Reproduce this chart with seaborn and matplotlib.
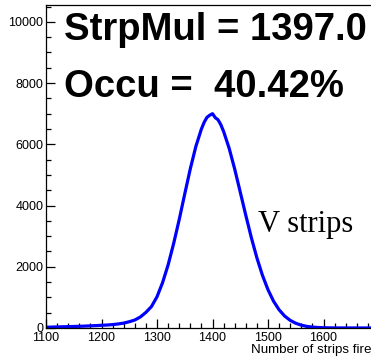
import matplotlib
matplotlib.use("Agg")
import matplotlib.pyplot as plt
import seaborn as sns
import pandas as pd
from matplotlib.ticker import MultipleLocator, FuncFormatter

# Number of strips fired (bin centres) and counts
strips = [1100, 1110, 1120, 1130, 1140, 1150, 1160, 1170, 1180, 1190,
          1200, 1210, 1220, 1230, 1240, 1250, 1260, 1270, 1280, 1290,
          1300, 1310, 1320, 1330, 1340, 1350, 1360, 1370, 1380, 1385,
          1390, 1395, 1400, 1405, 1410, 1415, 1420, 1430, 1440, 1450,
          1460, 1470, 1480, 1490, 1500, 1510, 1520, 1530, 1540, 1550,
          1560, 1570, 1580, 1590, 1600, 1610, 1620, 1640, 1660, 1680, 1700]
counts = [25, 30, 35, 40, 45, 50, 55, 62, 70, 78,
          88, 97, 112, 132, 160, 205, 260, 360, 510, 700,
          1020, 1480, 2060, 2760, 3540, 4380, 5200, 5930, 6500, 6720,
          6880, 6950, 7000, 6870, 6800, 6640, 6420, 5870, 5190, 4440,
          3680, 2950, 2290, 1720, 1250, 875, 595, 390, 250, 155,
          92, 52, 30, 17, 9, 5, 3, 2, 1, 1, 0]

line1 = "StrpMul = 1397.0"
line2 = "Occu =  40.42%"
tag = "V strips"
xlabel = "Number of strips fired"

sns.set_style("ticks")
plt.rcParams['font.family'] = ['Liberation Sans', 'DejaVu Sans']
for k in ['text.color', 'axes.labelcolor', 'xtick.color', 'ytick.color', 'axes.edgecolor']:
    plt.rcParams[k] = 'black'

df = pd.DataFrame({"strips": strips, "counts": counts})

fig = plt.figure(figsize=(3.71, 3.60), dpi=100)
ax = fig.add_axes([46/371, 32/360, 333/371, 323/360])

sns.lineplot(data=df, x="strips", y="counts", ax=ax, color="#0000ff",
             linewidth=2.3, estimator=None, sort=True)

ax.set_xlim(1100, 1700)
ax.set_ylim(0, 10550)
ax.xaxis.set_major_locator(MultipleLocator(100))
ax.xaxis.set_minor_locator(MultipleLocator(20))
ax.xaxis.set_major_formatter(FuncFormatter(lambda v, p: "" if v > 1650 else f"{v:.0f}"))
ax.yaxis.set_major_locator(MultipleLocator(2000))
ax.yaxis.set_minor_locator(MultipleLocator(500))
ax.tick_params(which='major', direction='in', length=6.5, width=0.9,
               labelsize=9, pad=2)
ax.tick_params(which='minor', direction='in', length=3.3, width=0.9)
ax.tick_params(axis='x', pad=3)
ax.set_ylabel("")
ax.set_xlabel("")
for s in ax.spines.values():
    s.set_linewidth(0.9)

fig.text(379/371, 1 - 353/360, xlabel, ha='right', va='baseline', fontsize=9.6)

fig.text(64/371, 1 - 40/360, line1, fontsize=27.5, fontweight='bold',
         ha='left', va='baseline')
fig.text(64/371, 1 - 97/360, line2, fontsize=27.5, fontweight='bold',
         ha='left', va='baseline')
fig.text(258/371, 1 - 232/360, tag, fontsize=22, family=['Liberation Serif'],
         ha='left', va='baseline')

fig.savefig("out.png", dpi=100)
